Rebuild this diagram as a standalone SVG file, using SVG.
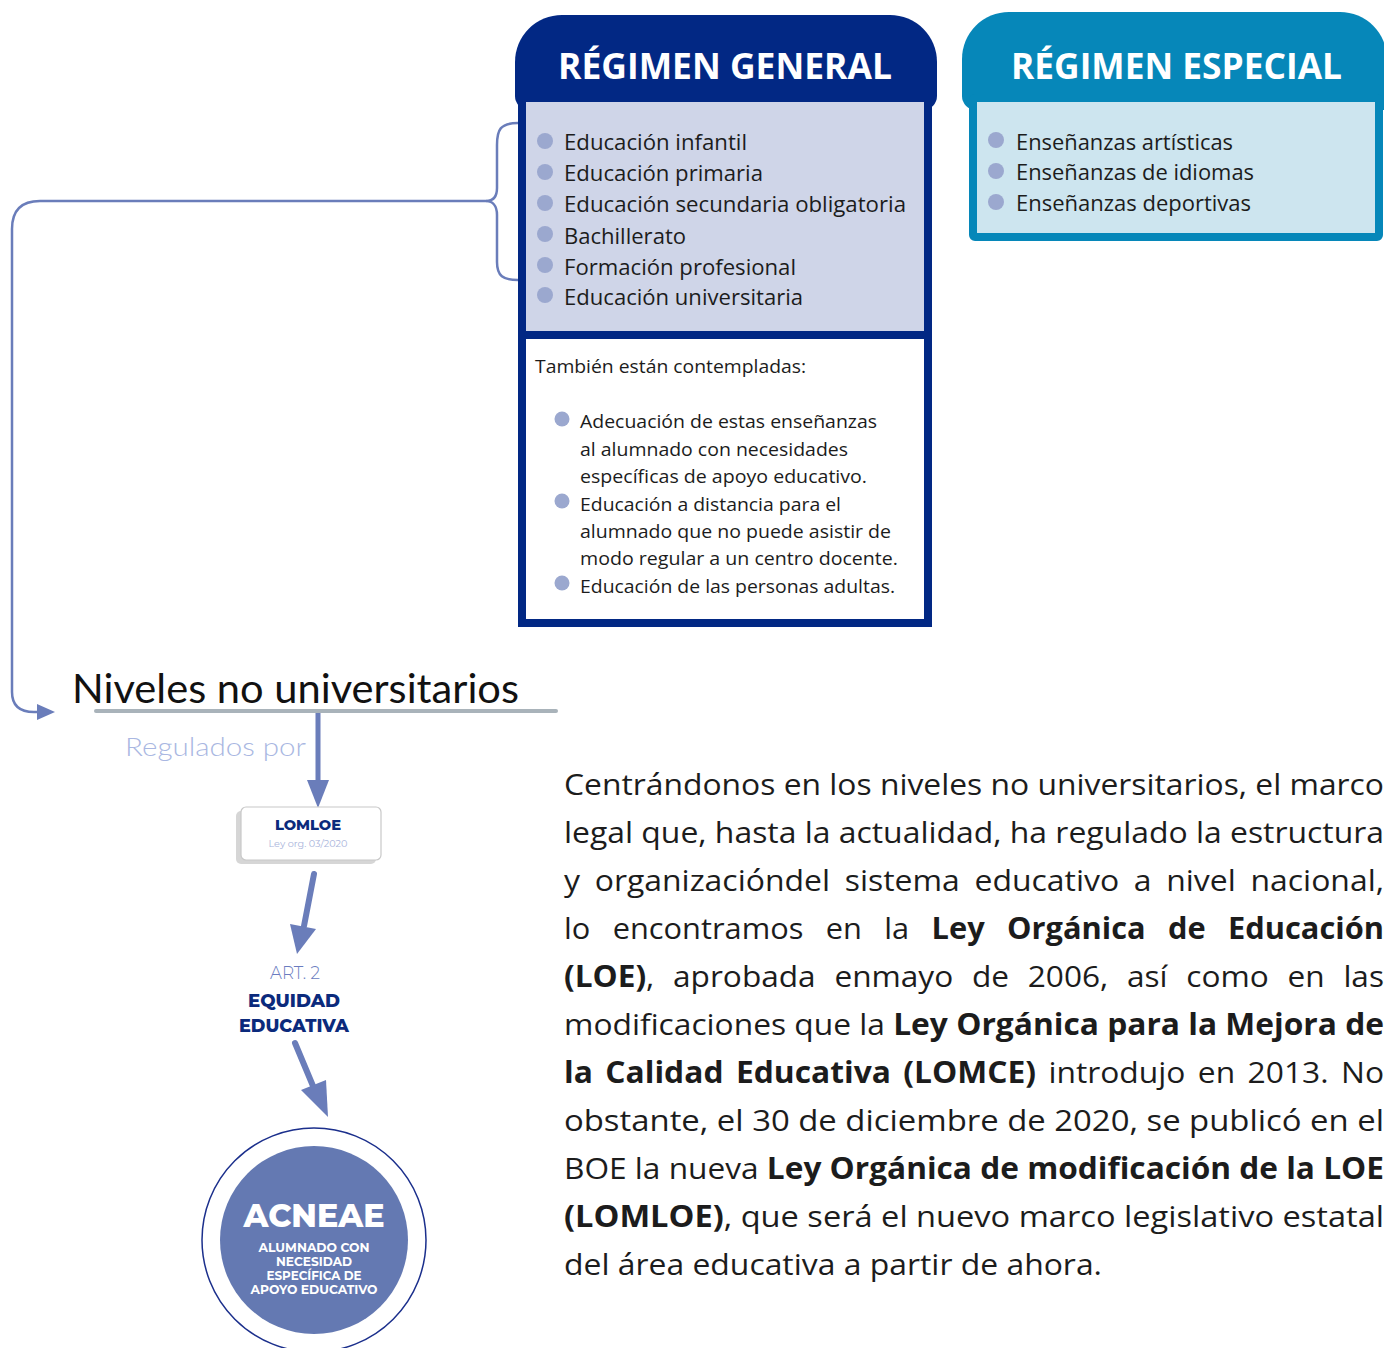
<svg xmlns="http://www.w3.org/2000/svg" width="1384" height="1348" viewBox="0 0 1384 1348">
<defs>
<style>
.body{font-family:"Open Sans","Noto Sans",sans-serif;fill:#1c1c1c}
.li{font-size:22px}
.li2{font-size:19px}
.hdr{font-family:"Open Sans","Noto Sans",sans-serif;font-weight:700;font-size:35px;fill:#fff}
.para{font-family:"Open Sans","Noto Sans",sans-serif;font-size:30px;fill:#1c1c1c}
.b{font-weight:700}
.bul{fill:#9ba8cf}
.conn{fill:none;stroke:#6a7dba;stroke-linecap:round}
.mont{font-family:"Montserrat","Lato","Open Sans",sans-serif}
</style>
<marker id="ah" viewBox="0 0 10 10" refX="10" refY="5" markerWidth="5" markerHeight="5" orient="auto" markerUnits="strokeWidth">
<path d="M0,0 L10,5 L0,10 z" fill="#6a7dba"/>
</marker>
</defs>
<rect width="1384" height="1348" fill="#fff"/>

<g id="connectors">
<path class="conn" stroke-width="2.5" d="M518,123 C500,123 497,130 497,145 L497,188 C497,198 492,201 486,201 C492,201 497,205 497,215 L497,262 C497,276 503,280 518,280"/>
<path class="conn" stroke-width="2.5" d="M486,201 L40,201 Q12,201 12,229 L12,692 Q12,712 34,712 L40,712"/>
<path d="M37,704 L55,712 L37,720 z" fill="#6a7dba"/>
<line x1="318" y1="713" x2="318" y2="784" class="conn" stroke-width="5" stroke-linecap="butt"/>
<path d="M307,780 L329,780 L318,808 z" fill="#6a7dba"/>
<line x1="314" y1="874" x2="304" y2="926" class="conn" stroke-width="6"/>
<path d="M290,924 L316,929 L297,954 z" fill="#6a7dba"/>
<line x1="295" y1="1043" x2="313" y2="1086" class="conn" stroke-width="6"/>
<path d="M301,1090 L326,1080 L328,1117 z" fill="#6a7dba"/>
</g>

<g id="regimen-general">
<path d="M515,62 A47,47 0 0 1 562,15 L890,15 A47,47 0 0 1 937,62 L937,96 A14,14 0 0 1 923,110 L529,110 A14,14 0 0 1 515,96 z" fill="#022884"/>
<text class="hdr" x="558" y="79" textLength="334" lengthAdjust="spacingAndGlyphs">RÉGIMEN GENERAL</text>
<rect x="522" y="98" width="406" height="525" fill="#fff" stroke="#022884" stroke-width="8"/>
<rect x="526" y="102" width="398" height="229" fill="#cfd5e8"/>
<line x1="522" y1="335" x2="928" y2="335" stroke="#022884" stroke-width="8"/>
<g class="body li">
<circle class="bul" cx="545" cy="141" r="8"/><text x="564" y="150" textLength="183" lengthAdjust="spacingAndGlyphs">Educación infantil</text>
<circle class="bul" cx="545" cy="172" r="8"/><text x="564" y="181" textLength="199" lengthAdjust="spacingAndGlyphs">Educación primaria</text>
<circle class="bul" cx="545" cy="203" r="8"/><text x="564" y="212" textLength="342" lengthAdjust="spacingAndGlyphs">Educación secundaria obligatoria</text>
<circle class="bul" cx="545" cy="234" r="8"/><text x="564" y="244" textLength="122" lengthAdjust="spacingAndGlyphs">Bachillerato</text>
<circle class="bul" cx="545" cy="265" r="8"/><text x="564" y="275" textLength="232" lengthAdjust="spacingAndGlyphs">Formación profesional</text>
<circle class="bul" cx="545" cy="295" r="8"/><text x="564" y="305" textLength="239" lengthAdjust="spacingAndGlyphs">Educación universitaria</text>
</g>
<g class="body li2">
<text x="535" y="373" textLength="271" lengthAdjust="spacingAndGlyphs">También están contempladas:</text>
<circle class="bul" cx="562" cy="419" r="7.5"/>
<text x="580" y="428" textLength="297" lengthAdjust="spacingAndGlyphs">Adecuación de estas enseñanzas</text>
<text x="580" y="456" textLength="268" lengthAdjust="spacingAndGlyphs">al alumnado con necesidades</text>
<text x="580" y="483" textLength="287" lengthAdjust="spacingAndGlyphs">específicas de apoyo educativo.</text>
<circle class="bul" cx="562" cy="501" r="7.5"/>
<text x="580" y="511" textLength="261" lengthAdjust="spacingAndGlyphs">Educación a distancia para el</text>
<text x="580" y="538" textLength="311" lengthAdjust="spacingAndGlyphs">alumnado que no puede asistir de</text>
<text x="580" y="565" textLength="318" lengthAdjust="spacingAndGlyphs">modo regular a un centro docente.</text>
<circle class="bul" cx="562" cy="583" r="7.5"/>
<text x="580" y="593" textLength="315" lengthAdjust="spacingAndGlyphs">Educación de las personas adultas.</text>
</g>
</g>

<g id="regimen-especial">
<path d="M962,59 A47,47 0 0 1 1009,12 L1340,12 A47,47 0 0 1 1387,59 L1387,110 L976,110 A14,14 0 0 1 962,96 z" fill="#0687b9"/>
<text class="hdr" x="1011" y="79" textLength="331" lengthAdjust="spacingAndGlyphs">RÉGIMEN ESPECIAL</text>
<rect x="973" y="98" width="406" height="139" fill="#cde5ef" stroke="#0687b9" stroke-width="8" rx="2"/>
<g class="body li">
<circle class="bul" cx="996" cy="140" r="8"/><text x="1016" y="150" textLength="217" lengthAdjust="spacingAndGlyphs">Enseñanzas artísticas</text>
<circle class="bul" cx="996" cy="171" r="8"/><text x="1016" y="180" textLength="238" lengthAdjust="spacingAndGlyphs">Enseñanzas de idiomas</text>
<circle class="bul" cx="996" cy="202" r="8"/><text x="1016" y="211" textLength="235" lengthAdjust="spacingAndGlyphs">Enseñanzas deportivas</text>
</g>
</g>

<g id="niveles">
<text x="72" y="703" font-family="Lato,'Open Sans',sans-serif" font-size="40" fill="#111" textLength="447" lengthAdjust="spacingAndGlyphs">Niveles no universitarios</text>
<line x1="96" y1="711" x2="556" y2="711" stroke="#a9b3ba" stroke-width="4" stroke-linecap="round"/>
<text x="125" y="756" font-family="Lato,'Open Sans',sans-serif" font-weight="300" font-size="26" fill="#a9b7e2" textLength="181" lengthAdjust="spacingAndGlyphs">Regulados por</text>
</g>

<g id="lomloe">
<rect x="236" y="811" width="140" height="53" rx="5" fill="#d6d6d6"/>
<rect x="241" y="807" width="140" height="53" rx="5" fill="#fff" stroke="#c8c8c8" stroke-width="1.2"/>
<text class="mont" x="308" y="830" text-anchor="middle" font-weight="800" font-size="15" fill="#0b2a7c" textLength="66" lengthAdjust="spacingAndGlyphs">LOMLOE</text>
<text class="mont" x="308" y="847" text-anchor="middle" font-size="10" fill="#a9b4db" textLength="79" lengthAdjust="spacingAndGlyphs">Ley org. 03/2020</text>
</g>

<g id="equidad">
<text class="mont" x="295" y="979" text-anchor="middle" font-weight="300" font-size="18" fill="#6a7cc0" textLength="50" lengthAdjust="spacingAndGlyphs">ART. 2</text>
<text class="mont" x="294" y="1007" text-anchor="middle" font-weight="800" font-size="18" fill="#0b2a7c" textLength="92" lengthAdjust="spacingAndGlyphs">EQUIDAD</text>
<text class="mont" x="294" y="1032" text-anchor="middle" font-weight="800" font-size="18" fill="#0b2a7c" textLength="110" lengthAdjust="spacingAndGlyphs">EDUCATIVA</text>
</g>

<g id="acneae">
<circle cx="314" cy="1240" r="112" fill="#fff" stroke="#1b2f8c" stroke-width="1.5"/>
<circle cx="314" cy="1240" r="94" fill="#6479b2"/>
<text class="mont" x="314" y="1227" text-anchor="middle" font-weight="800" font-size="32" fill="#fff" textLength="141" lengthAdjust="spacingAndGlyphs">ACNEAE</text>
<g class="mont" font-weight="700" font-size="12" fill="#fff" text-anchor="middle">
<text x="314" y="1252" textLength="111" lengthAdjust="spacingAndGlyphs">ALUMNADO CON</text>
<text x="314" y="1266" textLength="76" lengthAdjust="spacingAndGlyphs">NECESIDAD</text>
<text x="314" y="1280" textLength="95" lengthAdjust="spacingAndGlyphs">ESPECÍFICA DE</text>
<text x="314" y="1294" textLength="127" lengthAdjust="spacingAndGlyphs">APOYO EDUCATIVO</text>
</g>
</g>

<g id="paragraph" class="para">
<text x="564" y="795" textLength="820" lengthAdjust="spacingAndGlyphs">Centrándonos en los niveles no universitarios, el marco</text>
<text x="564" y="843" textLength="820" lengthAdjust="spacingAndGlyphs">legal que, hasta la actualidad, ha regulado la estructura</text>
<text x="564" y="891" textLength="820" lengthAdjust="spacingAndGlyphs" word-spacing="6">y organizacióndel sistema educativo a nivel nacional,</text>
<text x="564" y="939" textLength="820" lengthAdjust="spacingAndGlyphs" word-spacing="14">lo encontramos en la <tspan class="b">Ley Orgánica de Educación</tspan></text>
<text x="564" y="987" textLength="820" lengthAdjust="spacingAndGlyphs" word-spacing="10"><tspan class="b">(LOE)</tspan>, aprobada enmayo de 2006, así como en las</text>
<text x="564" y="1035" textLength="820" lengthAdjust="spacingAndGlyphs"><tspan>modificaciones que la </tspan><tspan class="b">Ley Orgánica para la Mejora de</tspan></text>
<text x="564" y="1083" textLength="820" lengthAdjust="spacingAndGlyphs" word-spacing="4"><tspan class="b">la Calidad Educativa (LOMCE)</tspan> introdujo en 2013. No</text>
<text x="564" y="1131" textLength="820" lengthAdjust="spacingAndGlyphs">obstante, el 30 de diciembre de 2020, se publicó en el</text>
<text x="564" y="1179" textLength="820" lengthAdjust="spacingAndGlyphs">BOE la nueva <tspan class="b">Ley Orgánica de modificación de la LOE</tspan></text>
<text x="564" y="1227" textLength="820" lengthAdjust="spacingAndGlyphs"><tspan class="b">(LOMLOE)</tspan>, que será el nuevo marco legislativo estatal</text>
<text x="564" y="1275" textLength="538" lengthAdjust="spacingAndGlyphs">del área educativa a partir de ahora.</text>
</g>
</svg>
